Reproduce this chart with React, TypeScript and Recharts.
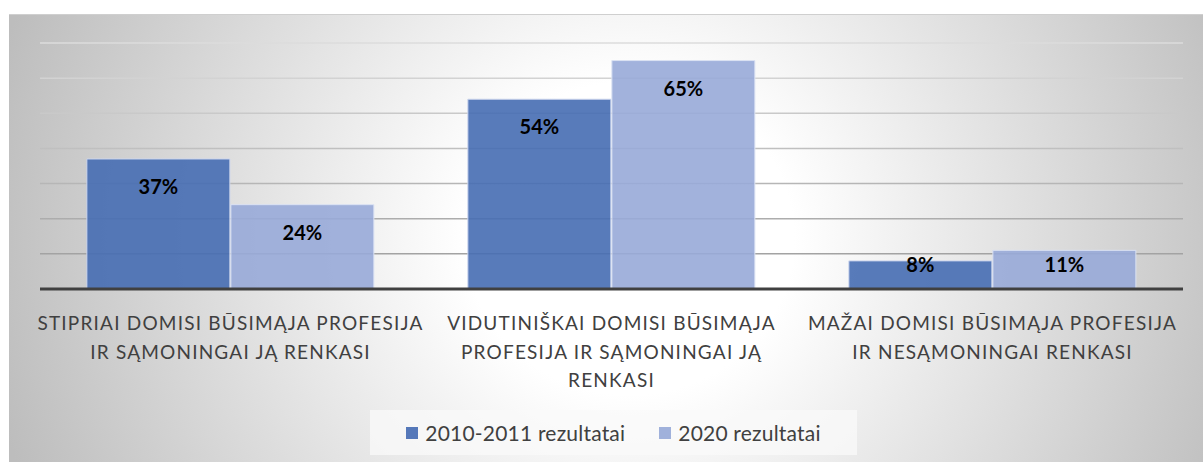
import React from "react";
import { Bar, BarChart, CartesianGrid, LabelList, Legend, XAxis, YAxis } from "recharts";

const categories = [
  "STIPRIAI DOMISI BŪSIMĄJA PROFESIJA\nIR SĄMONINGAI JĄ RENKASI",
  "VIDUTINIŠKAI DOMISI BŪSIMĄJA\nPROFESIJA IR SĄMONINGAI JĄ\nRENKASI",
  "MAŽAI DOMISI BŪSIMĄJA PROFESIJA\nIR NESĄMONINGAI RENKASI",
];
const values2010 = [37, 54, 8];
const values2020 = [24, 65, 11];
const seriesNames = ["2010-2011 rezultatai", "2020 rezultatai"];
const yTicks = [0, 10, 20, 30, 40, 50, 60, 70];

const DARK = "#466DB3";
const LIGHT = "#98AAD8";
const FONT = "Lato, 'Open Sans', sans-serif";

const data = categories.map((name, i) => ({
  name,
  a: values2010[i],
  b: values2020[i],
}));

function CategoryTick(props: any) {
  const { x, y, payload } = props;
  const lines = String(payload.value).split("\n");
  return (
    <g transform={`translate(${x},${y})`}>
      <text textAnchor="middle" fill="#404040" fontSize={19} letterSpacing={1.2} fontFamily={FONT}>
        {lines.map((l, i) => (
          <tspan key={i} x={0} dy={i === 0 ? 41 : 28.5}>
            {l}
          </tspan>
        ))}
      </text>
    </g>
  );
}

function ValueLabel(props: any) {
  const { x, y, width, height, value } = props;
  const cy = y + Math.min(28, height - 24);
  return (
    <text
      x={x + width / 2}
      y={cy}
      dy="0.35em"
      textAnchor="middle"
      fill="#000"
      fontWeight={700}
      fontSize={20}
      fontFamily={FONT}
    >
      {`${value}%`}
    </text>
  );
}

function LegendBox() {
  const colors = [DARK, LIGHT];
  return (
    <div style={{ display: "flex", justifyContent: "center", paddingLeft: 4 }}>
      <div
        style={{
          display: "flex",
          alignItems: "center",
          height: 45,
          padding: "0 36px",
          background: "rgba(250,250,250,0.75)",
          fontFamily: FONT,
          fontSize: 21,
          letterSpacing: 0.2,
          color: "#404040",
        }}
      >
        {seriesNames.map((n, i) => (
          <div key={n} style={{ display: "flex", alignItems: "center", marginLeft: i ? 34 : 0 }}>
            <span style={{ width: 12, height: 12, background: colors[i], opacity: 0.92, marginRight: 7 }} />
            <span>{n}</span>
          </div>
        ))}
      </div>
    </div>
  );
}

export default function App() {
  return (
    <div
      style={{
        position: "absolute",
        left: 9,
        top: 14,
        width: 1194,
        height: 448,
        borderTop: "1px solid #cfcfcf",
        boxSizing: "border-box",
        background:
          "radial-gradient(ellipse 55% 140% at 52% 50%, #ffffff 0%, #ffffff 25%, #bdbdbd 100%)",
      }}
    >
      <BarChart
        width={1194}
        height={447}
        data={data}
        margin={{ top: 28, right: 20, left: 31, bottom: 7 }}
        barCategoryGap="12.3%"
        barGap={1}
      >
        <defs>
          <linearGradient id="gridGrad" gradientUnits="userSpaceOnUse" x1={0} y1={28} x2={0} y2={275}>
            <stop offset="0%" stopColor="#dcdcdc" />
            <stop offset="100%" stopColor="#999999" />
          </linearGradient>
        </defs>
        <CartesianGrid vertical={false} stroke="url(#gridGrad)" strokeWidth={1.5} />
        <YAxis hide domain={[0, 70]} ticks={yTicks} />
        <XAxis
          dataKey="name"
          tick={<CategoryTick />}
          tickLine={false}
          tickSize={0}
          tickMargin={0}
          height={121}
          interval={0}
          axisLine={{ stroke: "#404040", strokeWidth: 3 }}
        />
        <Legend verticalAlign="bottom" height={45} content={() => <LegendBox />} />
        <Bar dataKey="a" name={seriesNames[0]} fill={DARK} fillOpacity={0.9} stroke="#cdd6ee" strokeWidth={1} isAnimationActive={false}>
          <LabelList dataKey="a" content={<ValueLabel />} />
        </Bar>
        <Bar dataKey="b" name={seriesNames[1]} fill={LIGHT} fillOpacity={0.9} stroke="#dbe2f3" strokeWidth={1} isAnimationActive={false}>
          <LabelList dataKey="b" content={<ValueLabel />} />
        </Bar>
      </BarChart>
    </div>
  );
}
